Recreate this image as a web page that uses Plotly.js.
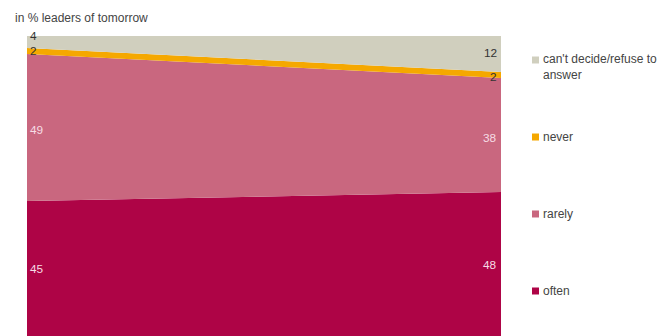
<!DOCTYPE html>
<html>
<head>
<meta charset="utf-8">
<script src="https://cdn.plot.ly/plotly-3.0.1.min.js"></script>
<style>html,body{margin:0;padding:0;background:#fff;}#chart{width:658px;height:336px;}</style>
</head>
<body>
<div id="chart"></div>
<script>
// ---- data ----
const periods = [0, 1];
const often = [45, 48];
const rarely = [49, 38];
const never = [2, 2];
const cantDecide = [4, 12];
const seriesNames = ["often", "rarely", "never", "can't decide/refuse to answer"];
const legendLabels = ["often", "rarely", "never", "can't decide/refuse to<br>answer"];
const chartTitle = "in % leaders of tomorrow";

// ---- style ----
const colors = ["#AE0446", "#C9677F", "#F5A800", "#D0CFBE"];
const labelColors = ["#F6DCE4", "#F6DCE4", "#333333", "#333333"];
const FONT = "Liberation Sans, Arial, Helvetica, sans-serif";
const series = [often, rarely, never, cantDecide];

const traces = series.map((vals, i) => ({
  type: "scatter",
  x: periods,
  y: vals,
  name: seriesNames[i],
  stackgroup: "one",
  mode: "none",
  fillcolor: colors[i],
  hoverinfo: "name+y",
  showlegend: false
}));

// value labels: midpoints of each stacked segment
const annotations = [];
const yShiftLeft = [0, -2, 0, 6];
const yShiftRight = [-1, -3, -2, 1];
periods.forEach((p, j) => {
  let base = 0;
  series.forEach((vals, i) => {
    const mid = base + vals[j] / 2;
    base += vals[j];
    annotations.push({
      x: p, y: mid, xref: "x", yref: "y",
      text: String(vals[j]),
      showarrow: false,
      xanchor: j === 0 ? "left" : "right",
      yanchor: "middle",
      xshift: j === 0 ? 1 : -2,
      yshift: j === 0 ? yShiftLeft[i] : yShiftRight[i],
      font: {family: FONT, size: 11.8, color: labelColors[i]}
    });
  });
});

// custom legend (top to bottom: can't decide, never, rarely, often)
const legendY = [0.15, 0.4067, 0.6633, 0.92];
const shapes = [];
series.forEach((vals, i) => {
  shapes.push({
    type: "rect", xref: "paper", yref: "paper",
    xsizemode: "pixel", ysizemode: "pixel",
    xanchor: 1, yanchor: legendY[i],
    x0: 31, x1: 38, y0: -3.5, y1: 3.5,
    fillcolor: colors[i], line: {width: 0}
  });
  const twoLine = legendLabels[i].indexOf("<br>") >= 0;
  annotations.push({
    xref: "paper", yref: "paper", x: 1, y: legendY[i],
    xanchor: "left", yanchor: twoLine ? "top" : "middle",
    yshift: twoLine ? 9.5 : 0,
    xshift: 40, align: "left",
    text: legendLabels[i], showarrow: false,
    font: {family: FONT, size: 12, color: "#444444"}
  });
});

// title
annotations.push({
  xref: "paper", yref: "paper", x: 0, y: 1,
  xanchor: "left", yanchor: "middle", xshift: -14, yshift: 18,
  text: chartTitle, showarrow: false,
  font: {family: FONT, size: 12, color: "#444444"}
});

const layout = {
  width: 658, height: 336,
  margin: {l: 27, r: 157, t: 36, b: 0, pad: 0},
  paper_bgcolor: "#ffffff", plot_bgcolor: "#ffffff",
  showlegend: false,
  font: {family: FONT},
  xaxis: {range: [0, 1], visible: false, showgrid: false, zeroline: false, fixedrange: true},
  yaxis: {range: [0, 100], visible: false, showgrid: false, zeroline: false, fixedrange: true},
  annotations: annotations,
  shapes: shapes
};

Plotly.newPlot("chart", traces, layout, {displayModeBar: false, staticPlot: true});
</script>
</body>
</html>
